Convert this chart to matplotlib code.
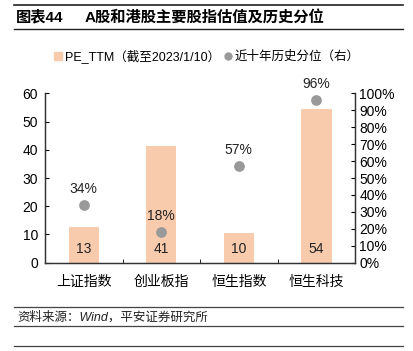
import matplotlib
matplotlib.use('Agg')
import matplotlib.pyplot as plt
from matplotlib.lines import Line2D

plt.rcParams['font.family'] = ['Liberation Sans', 'Noto Sans CJK SC', 'DejaVu Sans']

categories = ['上证指数', '创业板指', '恒生指数', '恒生科技']
pe_ttm = [12.6, 41.3, 10.4, 54.4]
pe_labels = ['13', '41', '10', '54']
percentile = [34, 18, 57, 96]
yticks_left = [0, 10, 20, 30, 40, 50, 60]
yticks_right = [0, 10, 20, 30, 40, 50, 60, 70, 80, 90, 100]

bar_color = '#F8CBAD'
dot_color = '#999999'

fig = plt.figure(figsize=(4.13, 3.51), dpi=100)
ax = fig.add_axes([0.109, 0.2516, 0.751, 0.4824])
ax2 = ax.twinx()

x = list(range(len(categories)))
ax.bar(x, pe_ttm, width=0.39, color=bar_color, zorder=2)
for xi, lab in zip(x, pe_labels):
    ax.text(xi, 4.8, lab, ha='center', va='center', fontsize=10, color='#222222')

ax2.scatter(x, percentile, s=45, color=dot_color, zorder=3)
for xi, p in zip(x, percentile):
    ax2.text(xi, p + 9.5, f'{p}%', ha='center', va='center', fontsize=10, color='#222222')

ax.set_xlim(-0.5, 3.5)
ax.set_ylim(0, 60)
ax2.set_ylim(0, 100)
ax.set_yticks(yticks_left)
ax2.set_yticks(yticks_right)
ax2.set_yticklabels([f'{v}%' for v in yticks_right])
ax.set_xticks(x)
ax.set_xticklabels(categories)
ax.set_xticks([0.5, 1.5, 2.5], minor=True)
ax.tick_params(axis='x', which='major', length=0, labelsize=10, pad=9)
ax.tick_params(axis='x', which='minor', length=3, direction='in')
ax.tick_params(axis='y', direction='in', length=3, labelsize=10, pad=5)
ax2.tick_params(axis='y', direction='in', length=3, labelsize=10, pad=3)

for a in (ax, ax2):
    a.spines['top'].set_visible(False)
    for s in ('left', 'right', 'bottom'):
        a.spines[s].set_color('#333333')
        a.spines[s].set_linewidth(0.9)

handles = [
    Line2D([], [], marker='s', linestyle='none', color=bar_color, markersize=6),
    Line2D([], [], marker='o', linestyle='none', color=dot_color, markersize=5),
]
fig.legend(handles, ['PE_TTM（截至2023/1/10）', '近十年历史分位（右）'],
           loc='center', bbox_to_anchor=(0.5, 1 - 56 / 351), ncol=2, frameon=False,
           fontsize=9, handletextpad=0.1, columnspacing=0.3, handlelength=0.8)

# title bar and source lines
fig.add_artist(Line2D([14 / 413, 403 / 413], [1 - 5 / 351] * 2, color='#222222', lw=1.2))
fig.add_artist(Line2D([14 / 413, 403 / 413], [1 - 29 / 351] * 2, color='#222222', lw=1.0))
fig.text(16 / 413, 1 - 17 / 351, '图表44', fontsize=11, fontweight='bold',
         va='center', ha='left')
fig.text(85 / 413, 1 - 17 / 351, 'A股和港股主要股指估值及历史分位', fontsize=11,
         fontweight='bold', va='center', ha='left')

fig.add_artist(Line2D([14 / 413, 403 / 413], [1 - 307 / 351] * 2, color='#444444', lw=0.9))
fig.add_artist(Line2D([14 / 413, 403 / 413], [1 - 326 / 351] * 2, color='#444444', lw=0.9))
fig.add_artist(Line2D([14 / 413, 403 / 413], [1 - 346 / 351] * 2, color='#444444', lw=0.9))
fig.text(17 / 413, 1 - 317 / 351, '资料来源：Wind，平安证券研究所', fontsize=9,
         style='italic', va='center', ha='left', color='#222222')

fig.savefig('out.png', dpi=100)
